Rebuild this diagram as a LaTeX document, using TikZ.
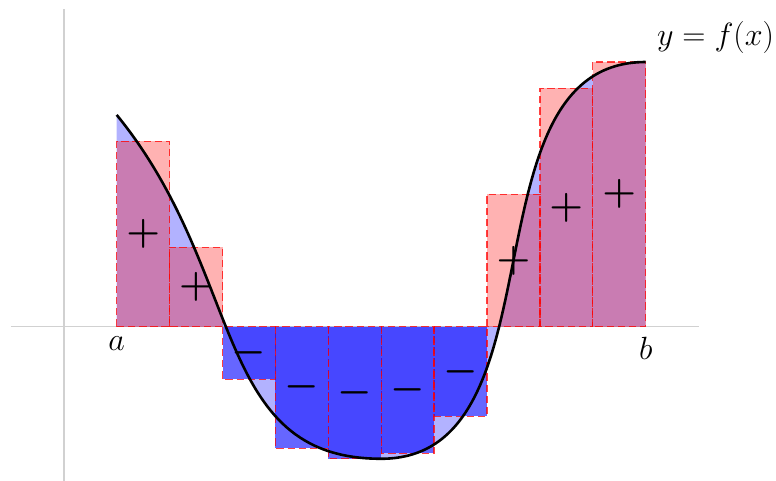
\documentclass[tikz,border=0pt]{standalone}
\begin{document}
\begin{tikzpicture}[x=1cm,y=1cm,
  axisline/.style={draw=black!18,line width=0.8pt},
  areafill/.style={fill=blue,fill opacity=0.3},
  posrect/.style={fill=red,fill opacity=0.3,draw=red,draw opacity=0.75,line width=0.7pt,dash pattern=on 4pt off 2pt},
  negrect/.style={fill=blue,fill opacity=0.6,draw=red,draw opacity=0.75,line width=0.7pt,dash pattern=on 4pt off 2pt},
  curveline/.style={draw=black,line width=1.4pt},
  lbl/.style={font=\fontsize{16.5}{20}\selectfont},
  sgn/.style={font=\fontsize{20}{24}\selectfont\boldmath,inner sep=0pt}]
\useasboundingbox (-2.206,-2.902) rectangle (12.463,6.172);
% axes
\coordinate (xl) at (-2,0); \coordinate (xr) at (11,0);
\coordinate (yb) at (-1,-3); \coordinate (yt) at (-1,6);
\draw[axisline] (xl) -- (xr);
\draw[axisline] (yb) -- (yt);
% end points of curve
\coordinate (A) at (0,4);
\coordinate (M) at (5,-2.5);
\coordinate (B) at (10,5);
\coordinate (a0) at (0,0);
\coordinate (b0) at (10,0);
% area under curve
\fill[areafill] (A) .. controls (2.45,1) and (1.8,-2.5) .. (M)
  .. controls (8.5,-2.5) and (6.5,5) .. (B) -- (b0) -- (a0) -- cycle;
% rectangles
\foreach \i/\h in {0/3.5,1/1.5,7/2.5,8/4.5,9/5}{
  \path[posrect] (\i,0) rectangle (\i+1,\h);
}
\foreach \i/\h in {2/-1,3/-2.3,4/-2.5,5/-2.4,6/-1.7}{
  \path[negrect] (\i,0) rectangle (\i+1,\h);
}
% curve
\draw[curveline] (A) .. controls (2.45,1) and (1.8,-2.5) .. (M)
  .. controls (8.5,-2.5) and (6.5,5) .. (B);
% signs
\foreach \i/\h in {0/3.5,1/1.5,7/2.5,8/4.5,9/5}{
  \node[sgn] (p\i) at (\i+0.5,\h/2) {$+$};
}
\foreach \i/\h in {2/-1,3/-2.3,4/-2.5,5/-2.4,6/-1.7}{
  \node[sgn] (m\i) at (\i+0.5,\h/2) {$-$};
}
% labels
\node[lbl,below,yshift=-0.07cm] (la) at (a0) {$a$};
\node[lbl,below,yshift=-0.07cm] (lb) at (b0) {$b$};
\node[lbl,above right,xshift=0.09cm,yshift=0.03cm] (lf) at (B) {$y=f(x)$};
\end{tikzpicture}
\end{document}
